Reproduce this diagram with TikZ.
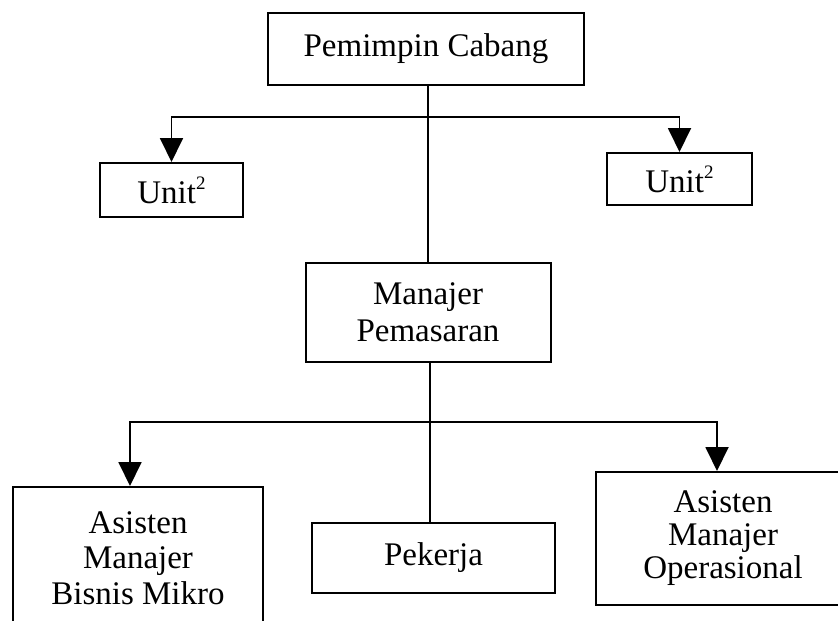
\documentclass[tikz,border=0pt]{standalone}
\usepackage{fontspec}
\setmainfont{Liberation Serif}
\usetikzlibrary{arrows.meta}
\newcommand{\supii}{\raisebox{0.42em}{\fontsize{19}{19}\selectfont 2}}
\begin{document}
\begin{tikzpicture}[x=1pt,y=-1pt,
  box/.style={draw, line width=2pt, inner sep=0pt, align=center,
    font=\fontsize{33}{37}\selectfont},
  conn/.style={line width=1.9pt},
  arr/.style={conn, -{Triangle[width=23pt,length=24pt]}}]
\useasboundingbox (0,0) rectangle (838,621);
\clip (0,0) rectangle (838,621);
% boxes
\node[box, minimum width=316pt, minimum height=72pt] (pc) at (426,49) {Pemimpin Cabang};
\node[box, minimum width=143pt, minimum height=54pt] (u1) at (171.5,190) {Unit\supii};
\node[box, minimum width=145pt, minimum height=52pt] (u2) at (679.5,179) {Unit\supii};
\node[box, minimum width=245pt, minimum height=99pt, font=\fontsize{33}{37}\selectfont] (mp) at (428,312.5) {Manajer\\Pemasaran};
\node[box, minimum width=250pt, minimum height=142pt, font=\fontsize{33}{35.5}\selectfont] (a1) at (138,558) {Asisten\\Manajer\\Bisnis Mikro};
\node[box, minimum width=243pt, minimum height=70pt] (pk) at (433.5,558) {Pekerja};
\node[box, minimum width=254pt, minimum height=133pt, font=\fontsize{33}{33}\selectfont] (a2) at (723,538.5) {Asisten\\Manajer\\Operasional};
% junctions
\coordinate (j1) at (428,117);
\coordinate (j2) at (430,422);
% connectors
\draw[conn] (pc.south -| j1) -- (mp.north -| j1);
\draw[arr] (j1) -| (u1.north);
\draw[arr] (j1) -| (u2.north);
\draw[conn] (mp.south -| j2) -- (pk.north -| j2);
\draw[arr] (j2) -| ([xshift=-8pt]a1.north);
\draw[arr] (j2) -| ([xshift=-6pt]a2.north);
\end{tikzpicture}
\end{document}
